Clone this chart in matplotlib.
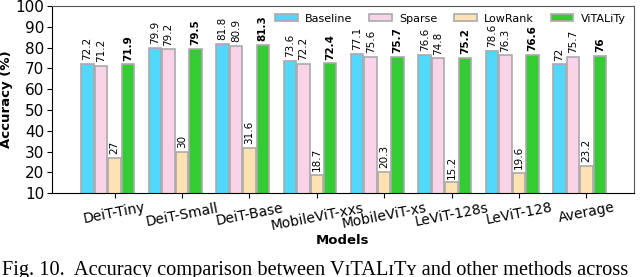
import numpy as np
import matplotlib
matplotlib.use('Agg')
from matplotlib import pyplot as plt

models = ['DeiT-Tiny', 'DeiT-Small', 'DeiT-Base', 'MobileViT-xxs',
          'MobileViT-xs', 'LeViT-128s', 'LeViT-128', 'Average']
methods = ['Baseline', 'Sparse', 'LowRank', 'ViTALiTy']
baseline = [72.2, 79.9, 81.8, 73.6, 77.1, 76.6, 78.6, 72]
sparse = [71.2, 79.2, 80.9, 72.2, 75.6, 74.8, 76.3, 75.7]
lowrank = [27, 30, 31.6, 18.7, 20.3, 15.2, 19.6, 23.2]
vitality = [71.9, 79.5, 81.3, 72.4, 75.7, 75.2, 76.6, 76]
colors = ['#52d8fd', '#f9d3e7', '#ffe2b2', '#33cc33']

fig = plt.figure(figsize=(6.4, 2.77), dpi=100)
ax = fig.add_axes([0.081, 0.303, 0.909, 0.675])

x = np.arange(len(models))
w = 0.2
series = [baseline, sparse, lowrank, vitality]
for k, (name, vals, c) in enumerate(zip(methods, series, colors)):
    pos = x + (k - 2) * w
    ax.bar(pos, vals, 0.185, color=c, edgecolor='#aaaaaa', linewidth=1.2, label=name)
    for p, v in zip(pos, vals):
        kw = dict(rotation=90, ha='center', va='bottom', fontsize=7.5)
        if name == 'ViTALiTy':
            kw['fontweight'] = 'bold'
        if name == 'LowRank':
            kw['bbox'] = dict(facecolor='white', edgecolor='none', pad=0.5)
        ax.text(p, v + 1.8, '{:g}'.format(v), **kw)

ax.set_ylim(10, 100)
ax.set_yticks(range(10, 101, 10))
ax.set_xlim(-0.93, 7.7)
ax.set_xticks(x)
ax.set_xticklabels(models, rotation=11, fontsize=10)
ax.tick_params(axis='y', labelsize=11, pad=2)
ax.tick_params(axis='x', pad=2)
ax.set_ylabel('Accuracy (%)', fontweight='bold', fontsize=9.5, labelpad=2)
ax.set_xlabel('Models', fontweight='bold', fontsize=9.5, labelpad=1)
for s in ['top', 'right']:
    ax.spines[s].set_color('#555555')

ax.legend(loc='upper right', ncol=4, frameon=False, fontsize=8,
          handlelength=2.0, handleheight=0.6, handletextpad=0.7,
          columnspacing=1.5, borderaxespad=0.3, bbox_to_anchor=(1.0, 1.0))

fig.text(0.003, -0.012, 'Fig. 10.  Accuracy comparison between V\u026aTAL\u026aT\u028f and other methods across',
         family=['Liberation Serif', 'DejaVu Serif'], fontsize=14.7, va='bottom')

fig.savefig('out.png', dpi=100)
